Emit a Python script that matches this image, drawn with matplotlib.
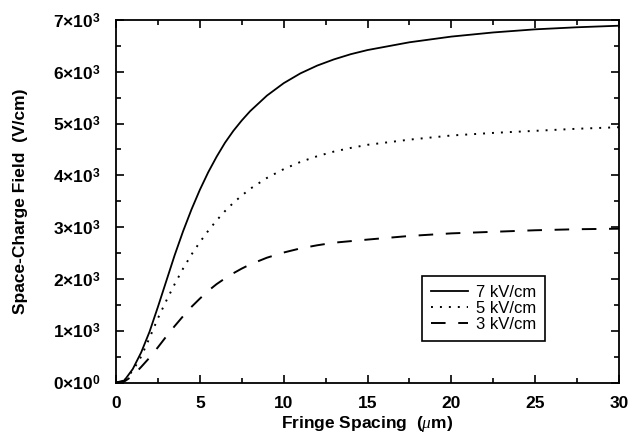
import matplotlib
matplotlib.use('Agg')
import matplotlib.pyplot as plt
from matplotlib.ticker import MultipleLocator, FuncFormatter


plt.rcParams['font.family'] = 'Liberation Sans'
plt.rcParams['mathtext.fontset'] = 'custom'
plt.rcParams['mathtext.rm'] = 'Liberation Sans:bold'
plt.rcParams['mathtext.bf'] = 'Liberation Sans:bold'
plt.rcParams['mathtext.it'] = 'Liberation Serif:italic'

# fringe spacing (um)
spacing = [0, 0.5, 1, 1.5, 2, 2.5, 3, 3.5, 4, 4.5, 5, 5.5, 6, 6.5, 7, 7.5,
           8, 9, 10, 11, 12, 13, 14, 15, 17.5, 20, 22.5, 25, 27.5, 30]

# space-charge field (V/cm) for each applied field
field_7 = [0, 40, 260, 580, 980, 1460, 1960, 2460, 2920, 3340, 3720, 4060,
           4360, 4630, 4860, 5060, 5240, 5540, 5780, 5970, 6120, 6240, 6340,
           6420, 6570, 6680, 6760, 6820, 6860, 6890]
field_5 = [0, 40, 230, 500, 860, 1240, 1580, 1900, 2200, 2470, 2710, 2930,
           3130, 3310, 3470, 3610, 3740, 3950, 4120, 4260, 4370, 4460, 4530,
           4590, 4690, 4770, 4820, 4860, 4900, 4930]
field_3 = [0, 20, 130, 300, 480, 680, 890, 1090, 1280, 1460, 1620, 1770,
           1900, 2010, 2110, 2200, 2280, 2410, 2510, 2590, 2650, 2700, 2730,
           2760, 2830, 2880, 2910, 2940, 2960, 2970]

labels = ['7 kV/cm', '5 kV/cm', '3 kV/cm']


def sci_fmt(v, pos):
    if v == 0:
        return r'0$\times$10$^{0}$'
    return r'%d$\times$10$^{3}$' % round(v / 1000)


fig = plt.figure(figsize=(6.43, 4.38), dpi=100)
ax = fig.add_axes([0.1804, 0.1267, 0.7823, 0.8276])

ax.plot(spacing, field_7, color='black', lw=1.3, label=labels[0])
ax.plot(spacing, field_5, color='black', lw=1.4, dashes=(1, 3.6), label=labels[1])
ax.plot(spacing, field_3, color='black', lw=1.4, dashes=(7.5, 6.5), label=labels[2])

ax.set_xlim(0, 30)
ax.set_ylim(0, 7000)
ax.xaxis.set_major_locator(MultipleLocator(5))
ax.xaxis.set_minor_locator(MultipleLocator(2.5))
ax.yaxis.set_major_locator(MultipleLocator(1000))
ax.yaxis.set_minor_locator(MultipleLocator(500))
ax.yaxis.set_major_formatter(FuncFormatter(sci_fmt))

ax.tick_params(which='both', direction='in', top=True, right=True, width=1.2)
ax.tick_params(which='major', length=6, labelsize=12.5)
ax.tick_params(axis='x', which='major', pad=10)
ax.tick_params(axis='y', which='major', pad=11)
ax.tick_params(which='minor', length=3.5)
for lbl in ax.get_xticklabels() + ax.get_yticklabels():
    lbl.set_fontweight('bold')
for s in ax.spines.values():
    s.set_linewidth(1.3)

ax.set_xlabel(r'Fringe Spacing  ($\mu$m)', fontsize=12.5, fontweight='bold', labelpad=2)
ax.set_ylabel('Space-Charge Field  (V/cm)', fontsize=12.5, fontweight='bold', labelpad=18)

leg = ax.legend(loc='lower left', bbox_to_anchor=(0.608, 0.1145),
                fontsize=12, frameon=True, fancybox=False,
                edgecolor='black', framealpha=1, handlelength=2.2,
                handletextpad=0.5, labelspacing=0.05, borderpad=0.55,
                borderaxespad=0)
leg.get_frame().set_linewidth(1.2)

fig.savefig('out.png', dpi=100)
